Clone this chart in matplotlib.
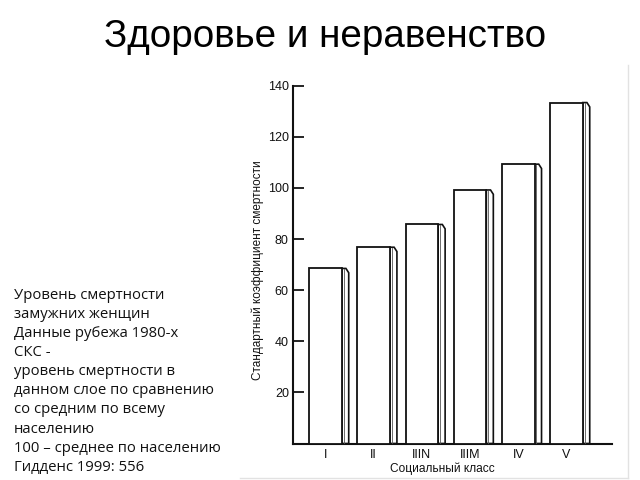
import matplotlib
matplotlib.use('Agg')
import matplotlib.pyplot as plt
from matplotlib.patches import Polygon
from matplotlib.lines import Line2D

# data
classes = ['I', 'II', 'IIIN', 'IIIM', 'IV', 'V']
smr = [68.5, 76.8, 85.7, 99.2, 109.3, 133.4]
yticks = [20, 40, 60, 80, 100, 120, 140]

title = 'Здоровье и неравенство'
ylabel = 'Стандартный коэффициент смертности'
xlabel = 'Социальный класс'
notes = ['Уровень смертности',
         'замужних женщин',
         'Данные рубежа 1980-х',
         'СКС -',
         'уровень смертности в',
         'данном слое по сравнению',
         'со средним по всему',
         'населению',
         '100 – среднее по населению',
         'Гидденс 1999: 556']

W, H = 640, 480
fig = plt.figure(figsize=(6.4, 4.8), dpi=100)
fig.patch.set_facecolor('white')

fig.text(325 / W, 1 - 46.7 / H, title, ha='center', va='baseline',
         fontsize=27.8, family='Liberation Sans', color='black')

# left note block
for i, line in enumerate(notes):
    fig.text(13.5 / W, 1 - (299 + i * 19.08) / H, line, ha='left', va='baseline',
             fontsize=10.7, family='Open Sans', color='#111111')

# faint frame of the pasted picture
fig.add_artist(Line2D([628 / W, 628 / W], [1 - 478 / H, 1 - 65 / H],
                      transform=fig.transFigure, color='#e2e2e2', lw=1))
fig.add_artist(Line2D([240 / W, 628 / W], [1 - 478 / H, 1 - 478 / H],
                      transform=fig.transFigure, color='#e2e2e2', lw=1))

# axes box in pixels: x 293..612, y0 at 443.5, 140 at 85.7
ax = fig.add_axes([293 / W, 1 - 443.5 / H, (612 - 293) / W, (443.5 - 85.7) / H])
ax.set_xlim(-0.674, 5.944)
ax.set_ylim(0, 140)

front_w = 0.674
side_w = 0.145
drop = 1.7
for i, v in enumerate(smr):
    ax.bar(i, v, width=front_w, color='white', edgecolor='#111111', linewidth=1.3, zorder=3)
    r = i + front_w / 2
    side = Polygon([(r, 0), (r, v), (r + side_w * 0.6, v), (r + side_w, v - drop), (r + side_w, 0)],
                   closed=True, facecolor='white', edgecolor='#111111', linewidth=1.2, zorder=2)
    ax.add_patch(side)
    ax.plot([r + 0.04, r + 0.04], [0, v - 0.3], color='#555555', lw=0.6, zorder=4)

for s in ['top', 'right']:
    ax.spines[s].set_visible(False)
for s in ['left', 'bottom']:
    ax.spines[s].set_linewidth(1.5)
    ax.spines[s].set_color('#111111')

ax.set_yticks(yticks)
ax.set_yticklabels([str(t) for t in yticks], family='Liberation Sans', fontsize=9, color='#111111')
ax.tick_params(axis='y', direction='in', length=8, width=1.2, pad=3)
ax.set_xticks(range(len(classes)))
ax.set_xticklabels(classes, family='Liberation Sans', fontsize=9, color='#111111')
ax.tick_params(axis='x', length=0, pad=4)

fig.text(258 / W, 1 - 270 / H, ylabel, rotation=90, ha='center', va='center',
         fontsize=8.5, family='Liberation Sans', color='#111111')
fig.text(442 / W, 1 - 469 / H, xlabel, ha='center', va='center',
         fontsize=8.6, family='Liberation Sans', color='#111111')

fig.savefig('out.png', dpi=100)
